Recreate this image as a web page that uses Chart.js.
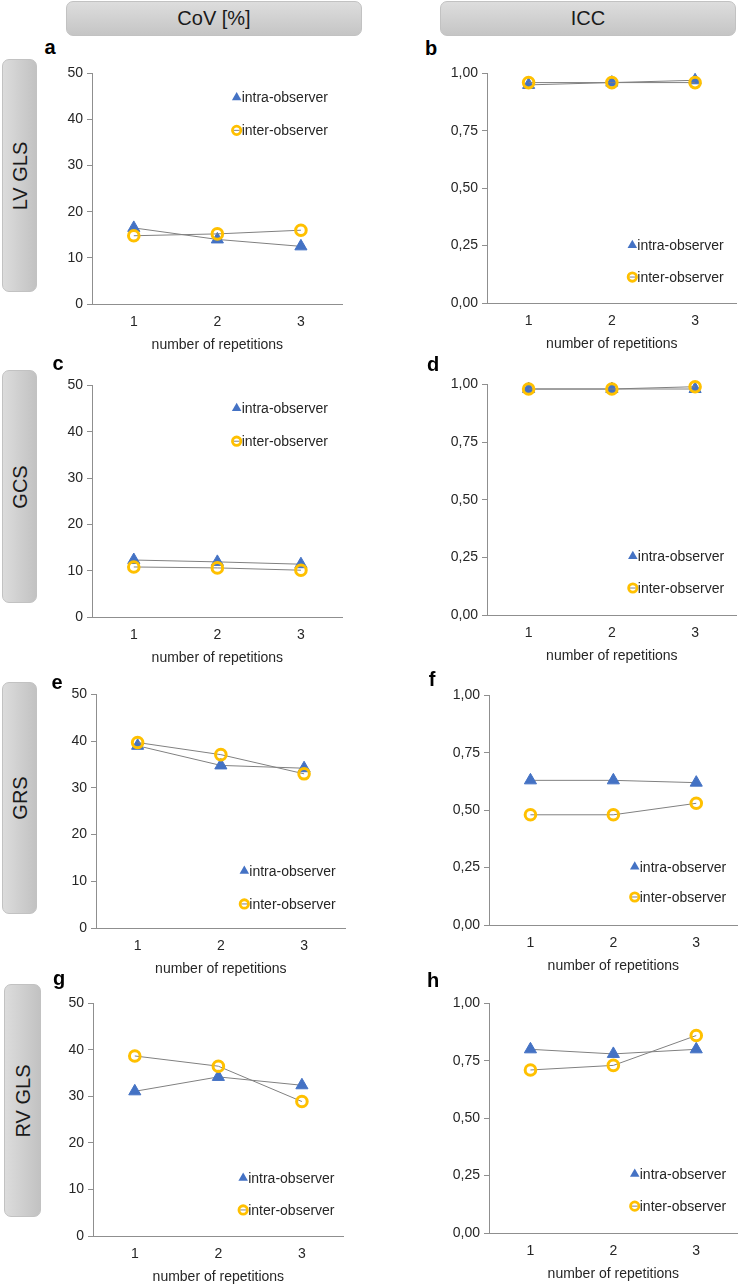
<!DOCTYPE html>
<html><head><meta charset="utf-8">
<script src="https://cdn.jsdelivr.net/npm/chart.js@4.4.0/dist/chart.umd.min.js"></script>
<style>
body{margin:0;background:#fff;width:746px;height:1287px;position:relative;overflow:hidden;font-family:"Liberation Sans",Arial,sans-serif;}
.hdr{position:absolute;box-sizing:border-box;border-radius:7px;background:linear-gradient(to bottom,#dddddd,#c5c5c5);border:1px solid #c2c2c2;display:flex;align-items:center;justify-content:center;font-size:20px;color:#1a1a1a;}
.side{position:absolute;box-sizing:border-box;border-radius:7px;background:linear-gradient(to right,#dcdcdc,#c2c2c2);border:1px solid #c2c2c2;}
.side span{position:absolute;left:50%;top:50%;transform:translate(-50%,-50%) rotate(-90deg);white-space:nowrap;font-size:20px;color:#1a1a1a;}
.lbl{position:absolute;font-weight:bold;font-size:20px;color:#000;transform:translate(-50%,-50%);line-height:1;}
canvas{position:absolute;}
</style></head><body>
<script>
// ---------- data ----------
const categories = ['1', '2', '3'];
const seriesNames = ['intra-observer', 'inter-observer'];
const columnTitles = ['CoV [%]', 'ICC'];
const rowTitles = ['LV GLS', 'GCS', 'GRS', 'RV GLS'];
const panelLetters = ['a', 'b', 'c', 'd', 'e', 'f', 'g', 'h'];
const xTitle = 'number of repetitions';
const covTickLabels = ['0', '10', '20', '30', '40', '50'];
const iccTickLabels = ['0,00', '0,25', '0,50', '0,75', '1,00'];

const lvglsCovIntra = [16.5, 14.0, 12.5];
const lvglsCovInter = [14.8, 15.2, 16.0];
const lvglsIccIntra = [0.95, 0.96, 0.97];
const lvglsIccInter = [0.96, 0.96, 0.96];

const gcsCovIntra = [12.3, 11.9, 11.4];
const gcsCovInter = [10.8, 10.6, 10.1];
const gcsIccIntra = [0.98, 0.98, 0.98];
const gcsIccInter = [0.98, 0.98, 0.99];

const grsCovIntra = [39.0, 34.8, 34.2];
const grsCovInter = [39.7, 37.1, 33.0];
const grsIccIntra = [0.63, 0.63, 0.62];
const grsIccInter = [0.48, 0.48, 0.53];

const rvglsCovIntra = [31.1, 34.2, 32.4];
const rvglsCovInter = [38.7, 36.5, 28.9];
const rvglsIccIntra = [0.80, 0.78, 0.80];
const rvglsIccInter = [0.71, 0.73, 0.86];

// ---------- styling / layout ----------
const BLUE = '#4472C4', YEL = '#FFC000', LINE = '#808080', AXIS = '#8f8f8f', TXT = '#262626';
const FONT = '"Liberation Sans", Arial, sans-serif';
Chart.defaults.font.family = FONT;
Chart.defaults.font.size = 14;
Chart.defaults.color = TXT;

function addDiv(cls, x, y, w, h, html) {
  const d = document.createElement('div');
  d.className = cls;
  d.style.left = x + 'px'; d.style.top = y + 'px';
  if (w != null) { d.style.width = w + 'px'; d.style.height = h + 'px'; }
  d.innerHTML = html;
  document.body.appendChild(d);
  return d;
}
addDiv('hdr', 66, 1, 296, 35, columnTitles[0]);
addDiv('hdr', 440, 1, 296, 35, columnTitles[1]);
const sideBoxes = [[2, 59, 35, 233], [2, 370, 35, 233], [2, 682, 35, 232], [4, 984, 37, 233]];
sideBoxes.forEach((b, i) => addDiv('side', b[0], b[1], b[2], b[3], '<span>' + rowTitles[i] + '</span>'));

const legendPlugin = {
  id: 'innerLegend',
  afterDatasetsDraw(chart, args, o) {
    const { ctx, chartArea: a } = chart;
    const x = a.left + o.x * (a.right - a.left);
    const y1 = a.top + o.y1 * (a.bottom - a.top);
    const y2 = a.top + o.y2 * (a.bottom - a.top);
    ctx.save();
    // triangle marker
    const r = 5.5;
    ctx.fillStyle = BLUE;
    ctx.beginPath();
    ctx.moveTo(x, y1 - r);
    ctx.lineTo(x + r * Math.sin(2 * Math.PI / 3), y1 - r * Math.cos(2 * Math.PI / 3));
    ctx.lineTo(x + r * Math.sin(4 * Math.PI / 3), y1 - r * Math.cos(4 * Math.PI / 3));
    ctx.closePath();
    ctx.fill();
    // circle marker with dash
    ctx.strokeStyle = LINE; ctx.lineWidth = 1;
    ctx.beginPath(); ctx.moveTo(x - 3, y2); ctx.lineTo(x + 3, y2); ctx.stroke();
    ctx.strokeStyle = YEL; ctx.lineWidth = 2.8;
    ctx.beginPath(); ctx.arc(x, y2, 4.2, 0, Math.PI * 2); ctx.stroke();
    ctx.fillStyle = TXT;
    ctx.font = '14px ' + FONT;
    ctx.textBaseline = 'middle'; ctx.textAlign = 'left';
    ctx.fillText(chart.data.datasets[0].label, x + 5, y1 + 1);
    ctx.fillText(chart.data.datasets[1].label, x + 5, y2 + 1);
    ctx.restore();
  }
};

const panels = [
  { L: 92, T: 73, R: 349, B: 304, kind: 'cov', intra: lvglsCovIntra, inter: lvglsCovInter, leg: { x: 0.577, y1: 0.104, y2: 0.247 }, letter: [50, 47] },
  { L: 487, T: 73, R: 743, B: 303, kind: 'icc', intra: lvglsIccIntra, inter: lvglsIccInter, leg: { x: 0.582, y1: 0.748, y2: 0.887 }, letter: [431, 48] },
  { L: 92, T: 385, R: 349, B: 617, kind: 'cov', intra: gcsCovIntra, inter: gcsCovInter, leg: { x: 0.577, y1: 0.099, y2: 0.241 }, letter: [58, 363] },
  { L: 487, T: 384, R: 743, B: 615, kind: 'icc', intra: gcsIccIntra, inter: gcsIccInter, leg: { x: 0.584, y1: 0.745, y2: 0.883 }, letter: [433, 364] },
  { L: 96, T: 694, R: 352, B: 928, kind: 'cov', intra: grsCovIntra, inter: grsCovInter, leg: { x: 0.594, y1: 0.756, y2: 0.897 }, letter: [57, 682] },
  { L: 489, T: 695, R: 744, B: 925, kind: 'icc', intra: grsIccIntra, inter: grsIccInter, leg: { x: 0.586, y1: 0.746, y2: 0.878 }, letter: [432, 679] },
  { L: 93, T: 1003, R: 350, B: 1236, kind: 'cov', intra: rvglsCovIntra, inter: rvglsCovInter, leg: { x: 0.599, y1: 0.751, y2: 0.888 }, letter: [59, 978] },
  { L: 489, T: 1003, R: 744, B: 1233, kind: 'icc', intra: rvglsIccIntra, inter: rvglsIccInter, leg: { x: 0.586, y1: 0.743, y2: 0.883 }, letter: [433, 980] }
];

const PADL = 60, PADT = 12, PADR = 2, XH = 54;
panels.forEach((p, idx) => {
  addDiv('lbl', p.letter[0], p.letter[1], null, null, panelLetters[idx]);
  const c = document.createElement('canvas');
  const w = p.R - p.L + PADL + PADR, h = p.B - p.T + PADT + XH;
  c.width = w; c.height = h;
  c.style.width = w + 'px'; c.style.height = h + 'px';
  c.style.left = (p.L - PADL) + 'px'; c.style.top = (p.T - PADT) + 'px';
  document.body.appendChild(c);
  const isIcc = p.kind === 'icc';
  const tickLabels = isIcc ? iccTickLabels : covTickLabels;
  new Chart(c, {
    type: 'line',
    data: {
      labels: categories,
      datasets: [
        { label: seriesNames[0], data: p.intra, order: 1, borderColor: LINE, borderWidth: 1, tension: 0, fill: false, clip: false,
          pointStyle: 'triangle', pointRadius: 7, pointBackgroundColor: BLUE, pointBorderColor: BLUE, pointBorderWidth: 1 },
        { label: seriesNames[1], data: p.inter, order: 0, borderColor: LINE, borderWidth: 1, tension: 0, fill: false, clip: false,
          pointStyle: 'circle', pointRadius: 5.3, pointBackgroundColor: 'rgba(0,0,0,0)', pointBorderColor: YEL, pointBorderWidth: 3 }
      ]
    },
    options: {
      responsive: false, animation: false, devicePixelRatio: 1, events: [],
      layout: { padding: { top: PADT, right: PADR, left: 0, bottom: 0 } },
      plugins: { legend: { display: false }, tooltip: { enabled: false }, innerLegend: p.leg },
      scales: {
        x: {
          type: 'category', offset: true,
          grid: { display: false, drawTicks: false },
          border: { display: true, color: AXIS, width: 1 },
          ticks: { padding: 10, color: TXT, font: { size: 14 } },
          title: { display: true, text: xTitle, color: TXT, font: { size: 14 }, padding: { top: 4, bottom: 4 } },
          afterFit(s) { s.height = XH; }
        },
        y: {
          min: 0, max: isIcc ? 1 : 50,
          grid: { display: true, drawOnChartArea: false, drawTicks: true, tickLength: 5, color: AXIS },
          border: { display: true, color: AXIS, width: 1 },
          ticks: { stepSize: isIcc ? 0.25 : 10, padding: 4, color: TXT, font: { size: 14 },
            callback: (v, i) => tickLabels[i] !== undefined ? tickLabels[i] : String(v) },
          afterFit(s) { s.width = PADL; }
        }
      }
    },
    plugins: [legendPlugin]
  });
});
</script>
</body></html>
